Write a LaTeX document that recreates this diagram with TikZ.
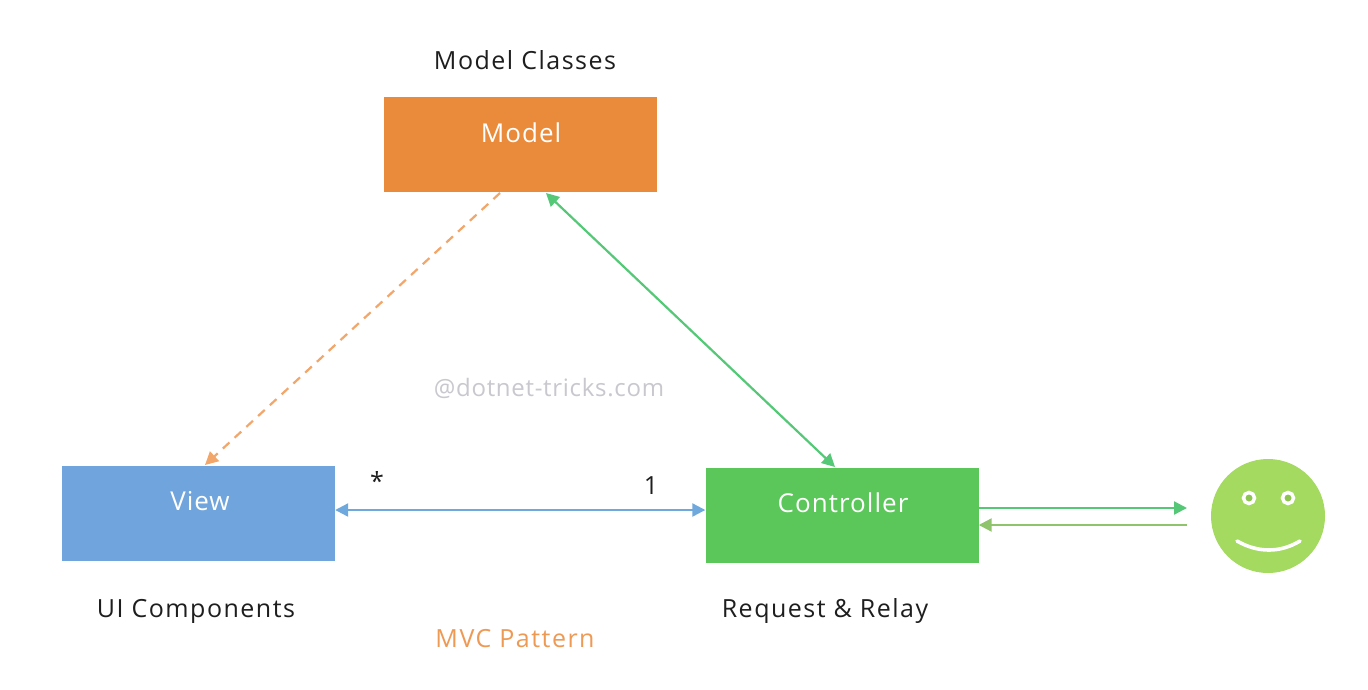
\documentclass[tikz,border=0pt]{standalone}
\usepackage{fontspec}
\setmainfont{Open Sans}
\newfontfamily\lblfont[LetterSpace=6]{Open Sans}
\newfontfamily\boxfont[LetterSpace=4]{Open Sans}
\newfontfamily\wmfont[LetterSpace=3]{Open Sans}
\usetikzlibrary{arrows.meta}
\definecolor{morange}{HTML}{E98B3A}
\definecolor{vblue}{HTML}{6FA5DC}
\definecolor{cgreen}{HTML}{5BC65A}
\definecolor{lblue}{HTML}{6FA8DC}
\definecolor{lgreen}{HTML}{55C878}
\definecolor{dorange}{HTML}{F2A66A}
\definecolor{smile}{HTML}{A4DA5F}
\definecolor{eyein}{HTML}{8CC44F}
\definecolor{backgreen}{HTML}{8FC46C}
\definecolor{wmark}{HTML}{C8C8CE}
\definecolor{ptitle}{HTML}{EE9A55}
\definecolor{txt}{HTML}{1E1E1E}
\begin{document}
\begin{tikzpicture}[x=1pt,y=-1pt,
  box/.style={minimum width=273pt,minimum height=95pt,inner sep=0pt,draw=none},
  boxtext/.style={text=white,font=\boxfont\fontsize{26}{30}\selectfont,inner sep=0pt},
  lbl/.style={text=txt,font=\lblfont\fontsize{25}{29}\selectfont,inner sep=0pt},
  conn/.style={line width=2.2pt,-{Triangle[length=13pt,width=13pt]}},
  biconn/.style={line width=2.2pt,{Triangle[length=13pt,width=13pt]}-{Triangle[length=13pt,width=13pt]}},
  eye/.style={circle,fill=eyein,draw=white,line width=3.5pt,minimum size=11pt,inner sep=0pt}]
\useasboundingbox (0,0) rectangle (1368,689);
\fill[white] (0,0) rectangle (1368,689);
% boxes
\node[box,fill=morange] (model) at (520.5,144.5) {};
\node[box,fill=vblue] (view) at (198.5,513.5) {};
\node[box,fill=cgreen] (ctrl) at (842,515.5) {};
\node[boxtext] (modelt) at (521,133) {Model};
\node[boxtext] (viewt) at (200,501) {View};
\node[boxtext] (ctrlt) at (843,503) {Controller};
% labels
\node[lbl] (mclass) at (525,60) {Model Classes};
\node[lbl] (uic) at (196,611) {UI Components};
\node[lbl] (rr) at (825,611) {Request \& Relay};
\node[lbl,text=ptitle] (mvc) at (515,639) {MVC Pattern};
\node[text=wmark,font=\wmfont\fontsize{24}{28}\selectfont,inner sep=0pt] (wm) at (549,388) {@dotnet-tricks.com};
\node[lbl] (star) at (377,481) {*};
\node[lbl] (one) at (651,486) {1};
% smiley
\node[circle,fill=smile,minimum size=114pt,inner sep=0pt] (user) at (1268,516) {};
\coordinate (c1) at (1187,508);
\coordinate (c2) at (1187,525);
\node[eye] (eyel) at (1249,498) {};
\node[eye] (eyer) at (1288,498) {};
\draw[white,line width=3.6pt,line cap=round] (1237,541) .. controls (1258,553) and (1280,553) .. (1300,541);
% connectors
\coordinate (ms) at (500,193);
\coordinate (ve) at (205,465);
\draw[dorange,conn,dash pattern=on 9pt off 7pt] (ms) -- (ve);
\coordinate (mg) at (546,193);
\coordinate (cg) at (835,467);
\draw[lgreen,biconn] (mg) -- (cg);
\draw[lblue,biconn] (view.east |- 0,510) -- (ctrl.west |- 0,510);
\draw[lgreen,conn] (ctrl.east |- 0,508) -- (c1);
\draw[backgreen,conn] (c2) -- (ctrl.east |- 0,525);
\end{tikzpicture}
\end{document}
